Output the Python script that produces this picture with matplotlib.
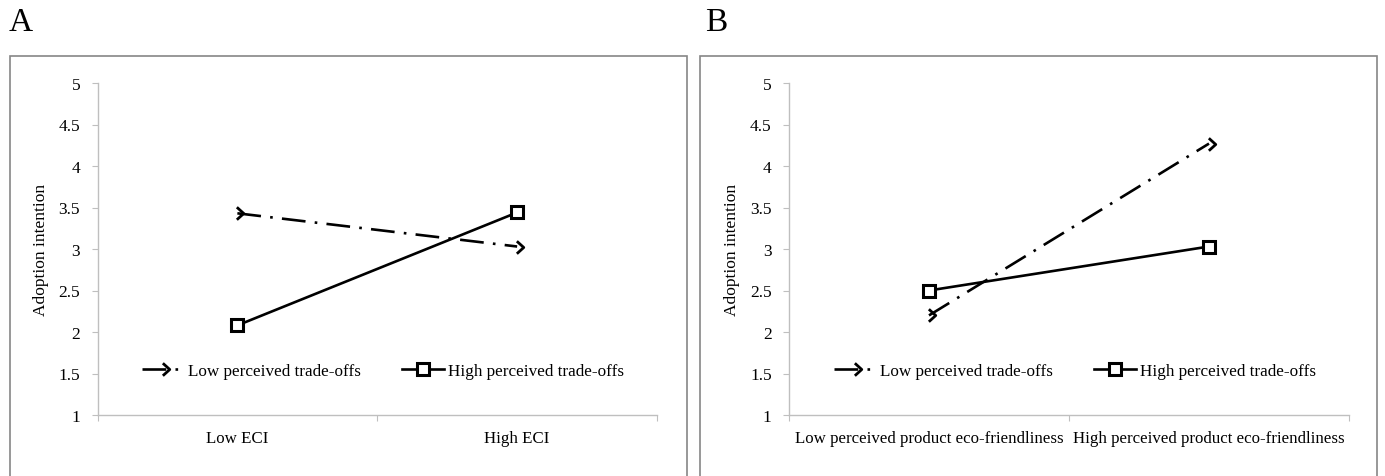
import numpy as np
import matplotlib
matplotlib.use("Agg")
import matplotlib.pyplot as plt
from matplotlib.patches import Rectangle
from matplotlib.path import Path

plt.rcParams['font.family'] = ['Liberation Serif', 'DejaVu Serif']

# panel A data
cats_a = ["Low ECI", "High ECI"]
low_a = [3.43, 3.03]
high_a = [2.08, 3.44]

# panel B data
cats_b = ["Low perceived product eco-friendliness", "High perceived product eco-friendliness"]
low_b = [2.20, 4.27]
high_b = [2.50, 3.03]

series_names = ["Low perceived trade-offs", "High perceived trade-offs"]
yticks = [1, 1.5, 2, 2.5, 3, 3.5, 4, 4.5, 5]

W, H = 1385, 477
fig = plt.figure(figsize=(W / 100, H / 100), dpi=100)

# half-diamond marker as in the original (open chevron)
chevron = Path([(-0.1, 1), (1, 0), (-0.1, -1)], [Path.MOVETO, Path.LINETO, Path.LINETO])

axis_grey = "#bfbfbf"
box_grey = "#868686"


def px_axes(x0, x1, y0, y1):
    return fig.add_axes([x0 / W, 1 - y1 / H, (x1 - x0) / W, (y1 - y0) / H])


def panel(ax, cats, low, high):
    x = np.array([0.5, 1.5])
    ax.plot(x, low, color="black", lw=1.9, dashes=(9, 3.5, 1, 3.5),
            marker=chevron, markersize=9, markeredgewidth=2, markerfacecolor="none",
            label=series_names[0])
    ax.plot(x, high, color="black", lw=1.9, marker="s", markersize=9,
            markeredgewidth=2.2, markerfacecolor="white", label=series_names[1])
    ax.set_xlim(0, 2)
    ax.set_ylim(1, 5)
    ax.set_yticks(yticks)
    ax.set_yticklabels([f"{t:g}" for t in yticks])
    ax.set_xticks([0, 1, 2])
    ax.set_xticklabels([])
    ax.set_xticks(x, minor=True)
    ax.set_xticklabels(cats, minor=True)
    ax.tick_params(axis="x", which="minor", length=0, pad=11, labelsize=12.2)
    ax.tick_params(axis="x", which="major", length=4, color=axis_grey, direction="out")
    ax.tick_params(axis="y", length=4.5, color=axis_grey, pad=8, labelsize=12.5)
    for s in ["top", "right"]:
        ax.spines[s].set_visible(False)
    for s in ["left", "bottom"]:
        ax.spines[s].set_color(axis_grey)
        ax.spines[s].set_linewidth(1)
    ax.set_ylabel("Adoption intention", fontsize=12.5, labelpad=7)
    ax.legend(loc="center", bbox_to_anchor=(0.51, 0.133), ncol=2, frameon=False,
              fontsize=12.3, handlelength=2.5, handletextpad=0.2, columnspacing=2.4)


ax_a = px_axes(97.5, 657, 84, 416)
panel(ax_a, cats_a, low_a, high_a)
ax_b = px_axes(789, 1349, 84, 416)
panel(ax_b, cats_b, low_b, high_b)

# outer boxes around each panel (bottom edge falls off the image)
for x0, x1 in [(9.5, 687), (700, 1377)]:
    fig.add_artist(Rectangle((x0 / W, -0.1), (x1 - x0) / W, 1.1 - 57 / H,
                             transform=fig.transFigure, fill=False,
                             edgecolor=box_grey, linewidth=1.2))

fig.text(9 / W, 1 - 23 / H, "A", fontsize=24, va="center", ha="left")
fig.text(705 / W, 1 - 23 / H, "B", fontsize=24, va="center", ha="left")

fig.savefig("out.png", dpi=100)
